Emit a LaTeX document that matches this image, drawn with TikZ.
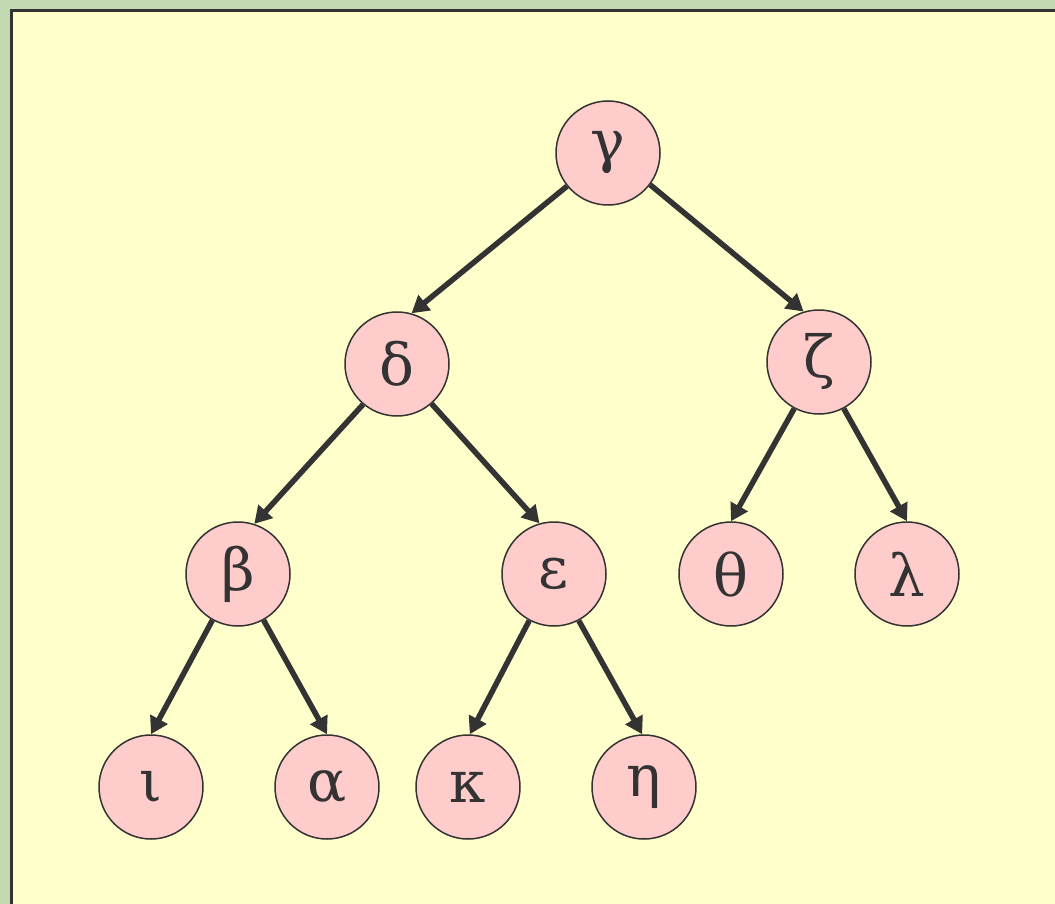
\documentclass[tikz,border=0pt]{standalone}
\usepackage{xcolor}
\usepackage{fontspec}
\setmainfont{DejaVu Serif}
\usepackage{tikz}
\usetikzlibrary{positioning,arrows.meta}
\definecolor{edgegray}{HTML}{333333}
\definecolor{vertpink}{HTML}{FFCCCC}
\definecolor{panelyellow}{HTML}{FFFFCC}
\definecolor{mossgreen}{HTML}{C2D9B2}

\begin{document}
\begin{tikzpicture}[
  x=1pt,y=1pt,
  font=\fontsize{58}{64}\selectfont,
  vert/.style={circle,draw=edgegray,line width=1.5pt,fill=vertpink,minimum size=104pt,inner sep=0pt,text=edgegray},
  link/.style={-{Triangle[length=17pt,width=19pt]},line width=5.5pt,draw=edgegray},
  node distance=211pt,
  on grid
]
\useasboundingbox (0,0) rectangle (1055,-904);
\fill[mossgreen] (0,0) rectangle (1055,-904);
\draw[edgegray,line width=3pt,fill=panelyellow] (11,-11) rectangle (1070,-920);

\node[vert] at (608,-153) (g) {γ};
\node[vert,below left=211pt and 211pt of g] (d) {δ};
\node[vert,below right=209pt and 211pt of g] (z) {ζ};
\node[vert,below left=210pt and 159pt of d] (b) {β};
\node[vert,below right=210pt and 157pt of d] (e) {ε};
\node[vert,below left=212pt and 88pt of z] (t) {θ};
\node[vert,below right=212pt and 88pt of z] (l) {λ};
\node[vert,below left=213pt and 87pt of b] (i) {ι};
\node[vert,below right=213pt and 89pt of b] (a) {α};
\node[vert,below left=213pt and 86pt of e] (k) {κ};
\node[vert,below right=213pt and 90pt of e] (h) {η};

\draw[link] (g.-141) -- (d.74);
\draw[link] (g.-37) -- (z.107);
\draw[link] (d.-130) -- (b.72);
\draw[link] (d.-49) -- (e.106);
\draw[link] (z.-118) -- (t.north);
\draw[link] (z.-62) -- (l.north);
\draw[link] (b.-119) -- (i.north);
\draw[link] (b.-61) -- (a.north);
\draw[link] (e.-118) -- (k.88);
\draw[link] (e.-62) -- (h.92);
\end{tikzpicture}
\end{document}
